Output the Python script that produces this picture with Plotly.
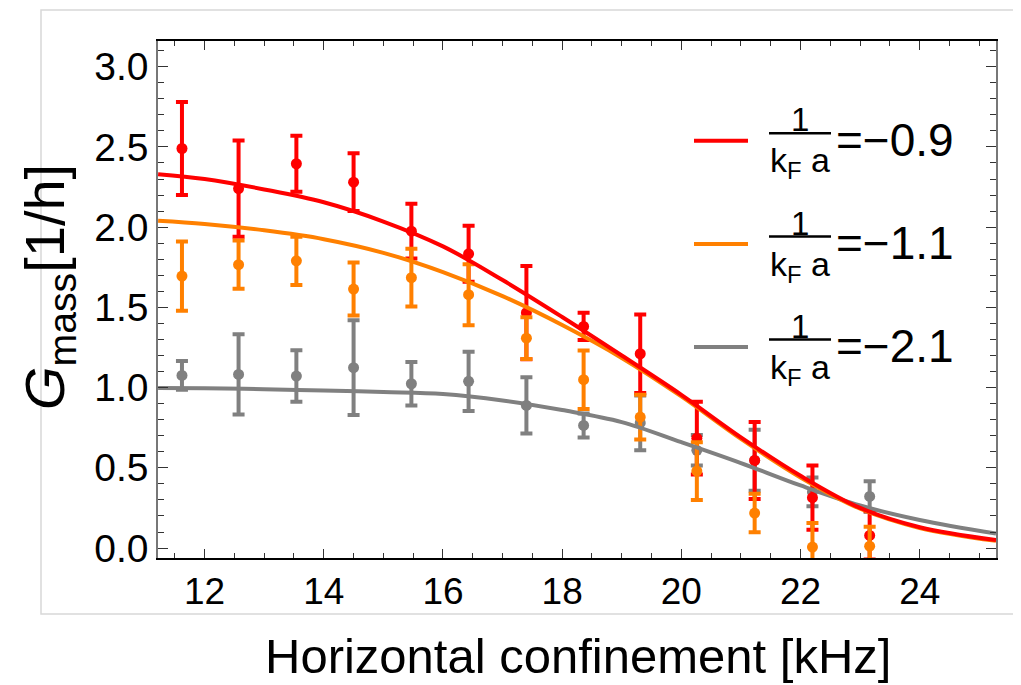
import plotly.graph_objects as go

# ---------------- data ----------------
x_pts = [11.62, 12.57, 13.54, 14.50, 15.47, 16.43, 17.40, 18.36, 19.31, 20.26, 21.23, 22.20, 23.16]

red_y = [2.49, 2.24, 2.395, 2.28, 1.975, 1.834, 1.467, 1.381, 1.211, 0.685, 0.546, 0.314, 0.079]
red_err = [0.29, 0.30, 0.175, 0.18, 0.17, 0.175, 0.29, 0.085, 0.245, 0.227, 0.24, 0.20, 0.15]

orange_y = [1.695, 1.766, 1.79, 1.614, 1.685, 1.579, 1.308, 1.049, 0.816, 0.48, 0.218, 0.006, 0.012]
orange_err = [0.216, 0.15, 0.15, 0.165, 0.18, 0.19, 0.13, 0.182, 0.14, 0.18, 0.12, 0.15, 0.12]

gray_y = [1.076, 1.082, 1.072, 1.124, 1.024, 1.039, 0.889, 0.764, 0.78, 0.609, 0.547, 0.35, 0.322]
gray_err = [0.09, 0.25, 0.16, 0.295, 0.135, 0.185, 0.175, 0.075, 0.17, 0.095, 0.19, 0.09, 0.095]

curve_x = [11.22, 12, 13, 14, 15, 16, 17, 18, 19, 20, 21, 22, 23, 24, 25.28]
red_fit = [2.33, 2.30, 2.235, 2.155, 2.035, 1.88, 1.67, 1.44, 1.20, 0.955, 0.69, 0.45, 0.25, 0.13, 0.05]
orange_fit = [2.04, 2.02, 1.98, 1.925, 1.84, 1.72, 1.57, 1.39, 1.185, 0.945, 0.68, 0.44, 0.245, 0.125, 0.045]
gray_fit = [0.997, 0.996, 0.99, 0.982, 0.972, 0.96, 0.92, 0.86, 0.785, 0.66, 0.53, 0.39, 0.265, 0.175, 0.09]

legend_values = ["\u22120.9", "\u22121.1", "\u22122.1"]
x_ticks = [12, 14, 16, 18, 20, 22, 24]
y_ticks = [0.0, 0.5, 1.0, 1.5, 2.0, 2.5, 3.0]

RED = "#FF0000"
ORANGE = "#FF8000"
GRAY = "#808080"
FONT = "Liberation Sans, Arial, sans-serif"

fig = go.Figure()

def points(y, err, color):
    fig.add_trace(go.Scatter(
        x=x_pts, y=y, mode="markers",
        marker=dict(color=color, size=11),
        error_y=dict(type="data", array=err, visible=True, color=color, thickness=4, width=6),
        cliponaxis=False, showlegend=False, hoverinfo="x+y"))

# data: gray, red, orange (bottom to top)
points(gray_y, gray_err, GRAY)
points(red_y, red_err, RED)
points(orange_y, orange_err, ORANGE)

def curve(y, color):
    fig.add_trace(go.Scatter(
        x=curve_x, y=y, mode="lines",
        line=dict(color=color, width=4, shape="spline", smoothing=1.0),
        showlegend=False, hoverinfo="skip"))

curve(gray_fit, GRAY)
curve(orange_fit, ORANGE)
curve(red_fit, RED)

# ---------------- layout geometry (page pixels; body has an 8px margin) ----------------
OFF = 8
W, H = 1021 - OFF, 685 - OFF
L, R, T, B = 158 - OFF, 996 - OFF, 41 - OFF, 558 - OFF
pw, ph = R - L, B - T

def px(xp):
    return (xp - OFF - L) / pw

def py(yp):
    return (B - (yp - OFF)) / ph

shapes = []
annotations = []

# outer light-gray frame
shapes.append(dict(type="rect", xref="paper", yref="paper",
                   x0=px(41), x1=px(1040), y0=py(614), y1=py(10),
                   line=dict(color="#D8D8D8", width=1.5), layer="below"))

# custom legend with fractions
legend_colors = [RED, ORANGE, GRAY]
legend_rows = [140.7, 244, 347]
for val, col, yl in zip(legend_values, legend_colors, legend_rows):
    shapes.append(dict(type="line", xref="paper", yref="paper",
                       x0=px(694), x1=px(748), y0=py(yl), y1=py(yl),
                       line=dict(color=col, width=4)))
    shapes.append(dict(type="line", xref="paper", yref="paper",
                       x0=px(769), x1=px(831), y0=py(yl - 7.5), y1=py(yl - 7.5),
                       line=dict(color="black", width=2.5)))
    annotations.append(dict(xref="paper", yref="paper", x=px(800), y=py(yl - 21),
                            text="1", showarrow=False, xanchor="center", yanchor="middle",
                            font=dict(family=FONT, size=33, color="black")))
    annotations.append(dict(xref="paper", yref="paper", x=px(800), y=py(yl + 22),
                            text="k<sub>F</sub> a", showarrow=False, xanchor="center", yanchor="middle",
                            font=dict(family=FONT, size=34, color="black")))
    annotations.append(dict(xref="paper", yref="paper", x=px(834), y=py(yl - 1),
                            text="=" + val, showarrow=False, xanchor="left", yanchor="middle",
                            font=dict(family=FONT, size=46, color="black")))

# axis titles
annotations.append(dict(xref="paper", yref="paper", x=px(578), y=py(656),
                        text="Horizontal confinement [kHz]", showarrow=False,
                        xanchor="center", yanchor="middle",
                        font=dict(family=FONT, size=49, color="black")))
annotations.append(dict(xref="paper", yref="paper", x=px(48), y=py(287),
                        text="<i>G</i><sub>mass</sub>[1/h]", showarrow=False, textangle=-90,
                        xanchor="center", yanchor="middle",
                        font=dict(family=FONT, size=56, color="black")))

fig.update_layout(
    width=W, height=H, autosize=False,
    margin=dict(l=L, r=W - R, t=T, b=H - B),
    paper_bgcolor="white", plot_bgcolor="white",
    shapes=shapes, annotations=annotations,
    showlegend=False,
    font=dict(family=FONT, color="black"),
    xaxis=dict(range=[11.218, 25.28], tickvals=x_ticks, ticktext=[str(v) for v in x_ticks],
               ticks="inside", ticklen=9, tickwidth=1.2, tickcolor="#333",
               minor=dict(ticks="inside", dtick=0.5, tick0=12, ticklen=5, tickwidth=1, tickcolor="#333"),
               showline=True, linecolor="black", linewidth=1.5, mirror="allticks",
               showgrid=False, zeroline=False,
               tickfont=dict(family=FONT, size=37, color="black")),
    yaxis=dict(range=[-0.062, 3.16], tickvals=y_ticks, ticktext=["%.1f" % v for v in y_ticks],
               ticks="inside", ticklen=10, tickwidth=1.2, tickcolor="#333",
               minor=dict(ticks="inside", dtick=0.1, tick0=0, ticklen=6, tickwidth=1, tickcolor="#333"),
               showline=True, linecolor="#777", linewidth=1.5, mirror="allticks",
               showgrid=False, zeroline=False,
               tickfont=dict(family=FONT, size=39, color="black")),
)

fig.write_html("out.html")
